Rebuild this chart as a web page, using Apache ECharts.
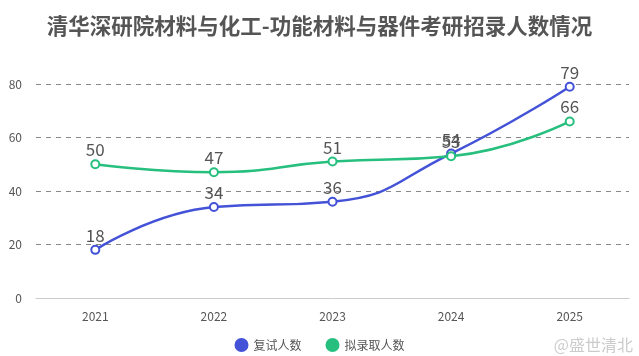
<!DOCTYPE html>
<html><head><meta charset="utf-8">
<script src="https://cdn.jsdelivr.net/npm/echarts@6/dist/echarts.min.js"></script>
<style>html,body{margin:0;padding:0;background:#fff}#c{width:639px;height:356px}</style>
</head><body><div id="c"></div>
<script>
const years = ['2021','2022','2023','2024','2025'];
const retest = [18, 34, 36, 54, 79];
const admitted = [50, 47, 51, 53, 66];
const seriesNames = ['复试人数', '拟录取人数'];
const titleText = '清华深研院材料与化工-功能材料与器件考研招录人数情况';

const chart = echarts.init(document.getElementById('c'), null, {renderer: 'canvas'});
const font = '"Microsoft YaHei","Noto Sans CJK SC",sans-serif';
const lbl = {show: true, position: 'top', fontSize: 17, color: '#555', fontFamily: font, distance: 1};
chart.setOption({
  animation: false,
  title: {text: titleText, left: 'center', top: 10, textStyle: {fontSize: 21.5, fontWeight: 'bold', color: '#555', fontFamily: font}},
  legend: {top: 333, left: 'center', itemGap: 24, icon: 'circle', itemWidth: 14, itemHeight: 14,
    textStyle: {fontSize: 12, color: '#555', fontFamily: font}, data: seriesNames},
  grid: {left: 36, right: 10, top: 84, bottom: 58},
  xAxis: {type: 'category', data: years, boundaryGap: true,
    axisLine: {lineStyle: {color: '#ccc'}}, axisTick: {alignWithLabel: true, lineStyle: {color: '#ccc'}},
    axisLabel: {color: '#555', fontSize: 12, margin: 12, fontFamily: font}},
  yAxis: {type: 'value', min: 0, max: 80, interval: 20,
    axisLine: {show: false}, axisTick: {show: false},
    axisLabel: {color: '#555', fontSize: 12, margin: 14, fontFamily: font},
    splitLine: {lineStyle: {type: [5, 5], color: '#888', width: 1}}},
  graphic: [{type: 'text', right: 6, bottom: 3, style: {text: '@盛世清北', fill: '#ccc', fontSize: 16, fontFamily: font}}],
  series: [
    {name: seriesNames[0], type: 'line', data: retest, smooth: true, symbol: 'emptyCircle', symbolSize: 8,
      lineStyle: {width: 2.5, color: '#4352D6'}, itemStyle: {color: '#4352D6', borderWidth: 2}, label: lbl},
    {name: seriesNames[1], type: 'line', data: admitted, smooth: true, symbol: 'emptyCircle', symbolSize: 8,
      lineStyle: {width: 2.5, color: '#27BF7E'}, itemStyle: {color: '#27BF7E', borderWidth: 2}, label: lbl}
  ]
});
</script></body></html>
